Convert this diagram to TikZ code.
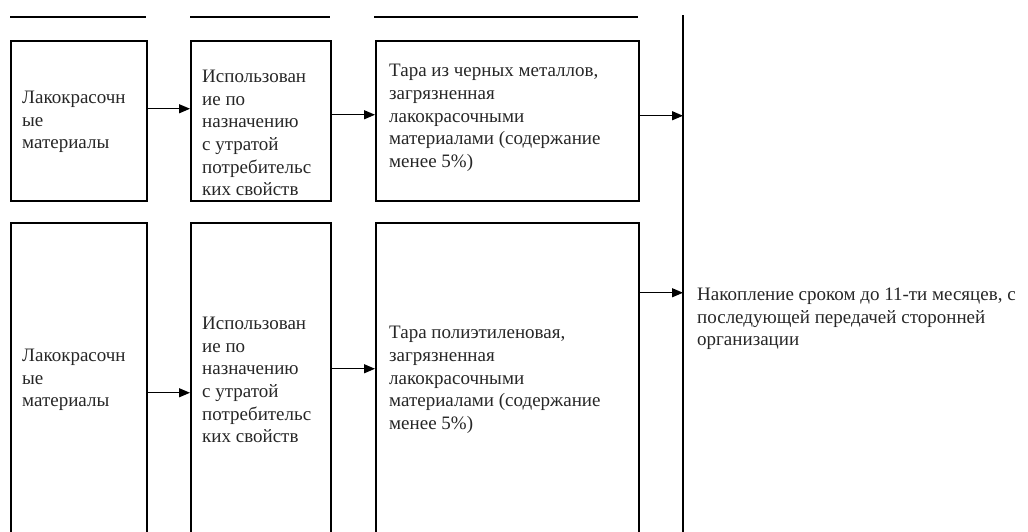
\documentclass[tikz,border=0pt]{standalone}
\usepackage{fontspec}
\setmainfont{Liberation Serif}
\usetikzlibrary{arrows.meta,calc}
\tikzset{
  box/.style={draw, line width=1.5pt, anchor=north west, inner sep=0pt},
  txt/.style={font=\fontsize{19}{22.7}\selectfont, align=left, anchor=west, inner sep=0pt, text=black!85},
  rule/.style={line width=1.5pt},
  arr/.style={line width=1.3pt, -{Triangle[length=11pt,width=9pt]}}
}
\begin{document}
\begin{tikzpicture}[x=1pt,y=-1pt]
\useasboundingbox (0,0) rectangle (1028,531);
% header rules
\coordinate (h1a) at (10,17); \coordinate (h1b) at (146,17);
\coordinate (h2a) at (190,17); \coordinate (h2b) at (330,17);
\coordinate (h3a) at (374,17); \coordinate (h3b) at (638,17);
\draw[rule] (h1a) -- (h1b);
\draw[rule] (h2a) -- (h2b);
\draw[rule] (h3a) -- (h3b);
% vertical collector line
\coordinate (vtop) at (683,15);
\coordinate (vbot) at (683,545);
\draw[rule] (vtop) -- (vbot);
% row 1 boxes
\node[box, minimum width=136pt, minimum height=160pt] (a1) at (10,40) {};
\node[box, minimum width=140pt, minimum height=160pt] (b1) at (190,40) {};
\node[box, minimum width=263pt, minimum height=160pt] (c1) at (375,40) {};
% row 2 boxes
\node[box, minimum width=136pt, minimum height=316pt] (a2) at (10,222) {};
\node[box, minimum width=140pt, minimum height=316pt] (b2) at (190,222) {};
\node[box, minimum width=263pt, minimum height=316pt] (c2) at (375,222) {};
% texts
\node[txt] (ta1) at (22,122) {Лакокрасочн\\ые\\материалы};
\node[txt] (tb1) at (202,133) {Использован\\ие по\\назначению\\с утратой\\потребительс\\ких свойств};
\node[txt] (tc1) at (389,118) {Тара из черных металлов,\\загрязненная\\лакокрасочными\\материалами (содержание\\менее 5\%)};
\node[txt] (ta2) at (22,380) {Лакокрасочн\\ые\\материалы};
\node[txt] (tb2) at (202,380) {Использован\\ие по\\назначению\\с утратой\\потребительс\\ких свойств};
\node[txt] (tc2) at (389,380) {Тара полиэтиленовая,\\загрязненная\\лакокрасочными\\материалами (содержание\\менее 5\%)};
\node[txt] (tr) at (697,319) {Накопление сроком до 11-ти месяцев, с\\последующей передачей сторонней\\организации};
% connector start points
\coordinate (s1) at ($(c1.east)+(0,-5)$);
\coordinate (s2) at ($(c2.east)+(0,-88)$);
% arrows row 1
\draw[arr] ($(a1.east)+(0,-12)$) -- ($(b1.west)+(0,-12)$);
\draw[arr] ($(b1.east)+(0,-6)$) -- ($(c1.west)+(0,-6)$);
\draw[arr] (s1) -- (s1 -| vtop);
% arrows row 2
\draw[arr] ($(a2.east)+(0,12)$) -- ($(b2.west)+(0,12)$);
\draw[arr] ($(b2.east)+(0,-12)$) -- ($(c2.west)+(0,-12)$);
\draw[arr] (s2) -- (s2 -| vtop);
\end{tikzpicture}
\end{document}
